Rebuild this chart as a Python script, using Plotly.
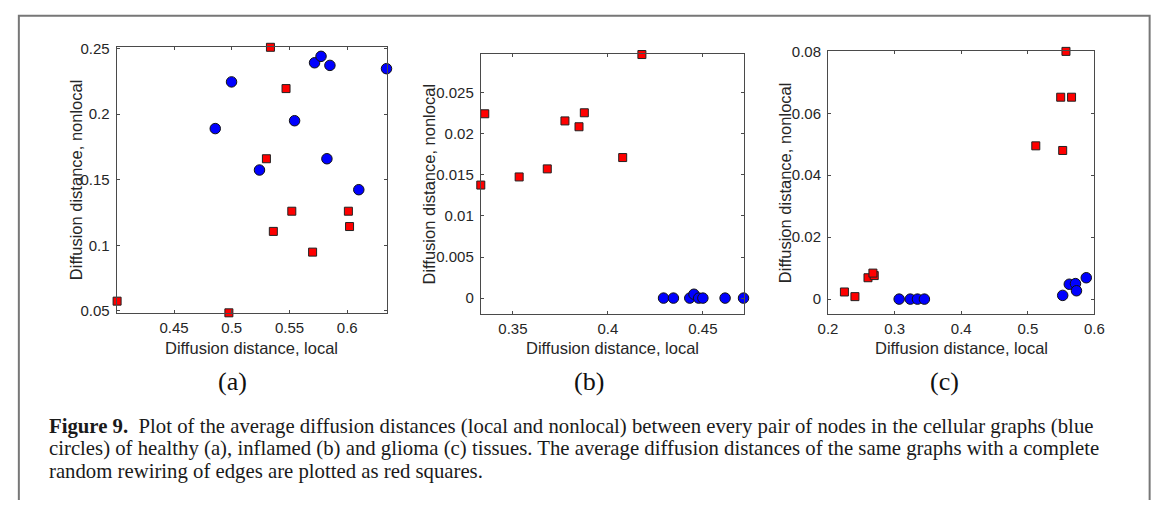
import plotly.graph_objects as go

W, H = 1167, 506

# ---------------- data ----------------
# (a) healthy
a_circ_x = [0.4998, 0.4857, 0.5717, 0.5773, 0.5850, 0.6340, 0.5544, 0.5824, 0.5240, 0.6100]
a_circ_y = [0.2246, 0.1890, 0.2392, 0.2441, 0.2372, 0.2347, 0.1950, 0.1660, 0.1574, 0.1424]
a_sq_x = [0.5335, 0.5470, 0.5300, 0.5520, 0.5360, 0.6010, 0.6020, 0.5700, 0.4007, 0.4975]
a_sq_y = [0.2510, 0.2195, 0.1660, 0.1260, 0.1106, 0.1260, 0.1143, 0.0948, 0.0574, 0.0485]

# (b) inflamed
b_circ_x = [0.4293, 0.4345, 0.4431, 0.4453, 0.4478, 0.4500, 0.4617, 0.4714]
b_circ_y = [0.0, 0.0, 0.0, 0.00047, 0.0, 0.0, 0.0, 0.0]
b_sq_x = [0.3331, 0.3352, 0.3533, 0.3681, 0.3774, 0.3848, 0.3876, 0.4078, 0.4179]
b_sq_y = [0.01376, 0.02244, 0.01475, 0.01573, 0.02157, 0.02086, 0.02256, 0.01711, 0.02965]

# (c) glioma
c_circ_x = [0.3068, 0.3235, 0.3343, 0.3447, 0.5524, 0.5623, 0.5716, 0.5731, 0.5878]
c_circ_y = [0.0, 0.0, 0.0, 0.0, 0.0012, 0.0048, 0.0050, 0.0027, 0.0069]
c_sq_x = [0.5573, 0.5494, 0.5657, 0.5120, 0.5524, 0.2246, 0.2404, 0.2600, 0.2694, 0.2674]
c_sq_y = [0.0800, 0.0652, 0.0652, 0.0495, 0.0480, 0.0023, 0.0008, 0.0069, 0.0076, 0.0084]

a_xticks = [0.45, 0.5, 0.55, 0.6]
a_yticks = [0.05, 0.1, 0.15, 0.2, 0.25]
b_xticks = [0.35, 0.4, 0.45]
b_yticks = [0, 0.005, 0.01, 0.015, 0.02, 0.025]
c_xticks = [0.2, 0.3, 0.4, 0.5, 0.6]
c_yticks = [0, 0.02, 0.04, 0.06, 0.08]

panel_labels = ["(a)", "(b)", "(c)"]
x_title = "Diffusion distance, local"
y_title = "Diffusion distance, nonlocal"
caption_lines = [
    "<b>Figure 9.</b>  Plot of the average diffusion distances (local and nonlocal) between every pair of nodes in the cellular graphs (blue",
    "circles) of healthy (a), inflamed (b) and glioma (c) tissues. The average diffusion distances of the same graphs with a complete",
    "random rewiring of edges are plotted as red squares.",
]

# ---------------- layout geometry (pixels) ----------------
panels = [
    dict(x0=108.5, x1=383.3, y0=40.0, y1=313.5, xr=[0.4003, 0.6342], yr=[0.0485, 0.2513],
         xt=a_xticks, yt=a_yticks, cx=a_circ_x, cy=a_circ_y, sx=a_sq_x, sy=a_sq_y,
         ytitle_x=67.5, label_x=226.7),
    dict(x0=479.0, x1=746.7, y0=47.7, y1=315.0, xr=[0.3331, 0.4716], yr=[-0.00197, 0.02967],
         xt=b_xticks, yt=b_yticks, cx=b_circ_x, cy=b_circ_y, sx=b_sq_x, sy=b_sq_y,
         ytitle_x=426.5, label_x=589.3),
    dict(x0=832.3, x1=1103.3, y0=44.3, y1=315.0, xr=[0.2, 0.6], yr=[-0.0049, 0.0801],
         xt=c_xticks, yt=c_yticks, cx=c_circ_x, cy=c_circ_y, sx=c_sq_x, sy=c_sq_y,
         ytitle_x=788.0, label_x=951.0),
]

def px(x):
    return x / W

def py(y):
    return 1 - y / H

def fmt(v):
    s = ("%.3f" % v).rstrip("0").rstrip(".")
    return s if s else "0"

fig = go.Figure()
layout = dict(
    width=W, height=H, margin=dict(l=0, r=0, t=0, b=0),
    paper_bgcolor="white", plot_bgcolor="white", showlegend=False,
    annotations=[], shapes=[],
)

sans = "Liberation Sans, Arial, Helvetica, sans-serif"
serif = "Liberation Serif, Times New Roman, serif"
axis_col = "#4a4a4a"
text_col = "#262626"

for i, p in enumerate(panels):
    n = "" if i == 0 else str(i + 1)
    xa = "x" + n
    ya = "y" + n
    fig.add_trace(go.Scatter(
        x=p["sx"], y=p["sy"], mode="markers", xaxis=xa, yaxis=ya,
        marker=dict(symbol="square", size=8, color="#ff0000", line=dict(color="#222222", width=1)),
        cliponaxis=False,
    ))
    fig.add_trace(go.Scatter(
        x=p["cx"], y=p["cy"], mode="markers", xaxis=xa, yaxis=ya,
        marker=dict(symbol="circle", size=10.5, color="#0000ff", line=dict(color="#111111", width=1)),
        cliponaxis=False,
    ))
    common = dict(showgrid=False, zeroline=False, showline=True, linecolor=axis_col, linewidth=1,
                  mirror="ticks", ticks="inside", ticklen=3, tickcolor=axis_col, tickwidth=1,
                  tickfont=dict(family=sans, size=15, color=text_col))
    layout["xaxis" + n] = dict(
        domain=[px(p["x0"]), px(p["x1"])], range=p["xr"], anchor=ya,
        tickmode="array", tickvals=p["xt"], ticktext=[fmt(v) for v in p["xt"]],
        ticklabelstandoff=1, **common)
    layout["yaxis" + n] = dict(
        domain=[py(p["y1"]), py(p["y0"])], range=p["yr"], anchor=xa,
        tickmode="array", tickvals=p["yt"], ticktext=[fmt(v) for v in p["yt"]],
        ticklabelstandoff=3, **common)
    cxp = (p["x0"] + p["x1"]) / 2
    cyp = (p["y0"] + p["y1"]) / 2
    layout["annotations"].append(dict(
        text=x_title, xref="paper", yref="paper", x=px(cxp), y=py(350), xanchor="center",
        yanchor="middle", showarrow=False, font=dict(family=sans, size=16.5, color=text_col)))
    layout["annotations"].append(dict(
        text=y_title, xref="paper", yref="paper", x=px(p["ytitle_x"]), y=py(cyp), xanchor="center",
        yanchor="middle", textangle=-90, showarrow=False, font=dict(family=sans, size=16.5, color=text_col)))
    layout["annotations"].append(dict(
        text=panel_labels[i], xref="paper", yref="paper", x=px(p["label_x"]), y=py(384),
        xanchor="center", yanchor="middle", showarrow=False,
        font=dict(family=serif, size=26, color="#111111")))

for j, line in enumerate(caption_lines):
    layout["annotations"].append(dict(
        text=line, xref="paper", yref="paper", x=px(38), y=py(430 + 23.3 * j),
        xanchor="left", yanchor="middle", showarrow=False, align="left",
        font=dict(family=serif, size=20.75, color="#1a1a1a")))

# outer frame (open at the bottom)
layout["shapes"].append(dict(
    type="path", xref="paper", yref="paper",
    path="M %f,%f L %f,%f L %f,%f L %f,%f" % (px(9), py(506), px(9), py(8), px(1159.5), py(8), px(1159.5), py(506)),
    line=dict(color="#777777", width=2)))

fig.update_layout(**layout)
fig.write_html(
    "out.html",
    config={"displayModeBar": False},
    post_script="document.body.style.margin='0';document.body.style.padding='0';document.body.style.overflow='hidden';",
)
